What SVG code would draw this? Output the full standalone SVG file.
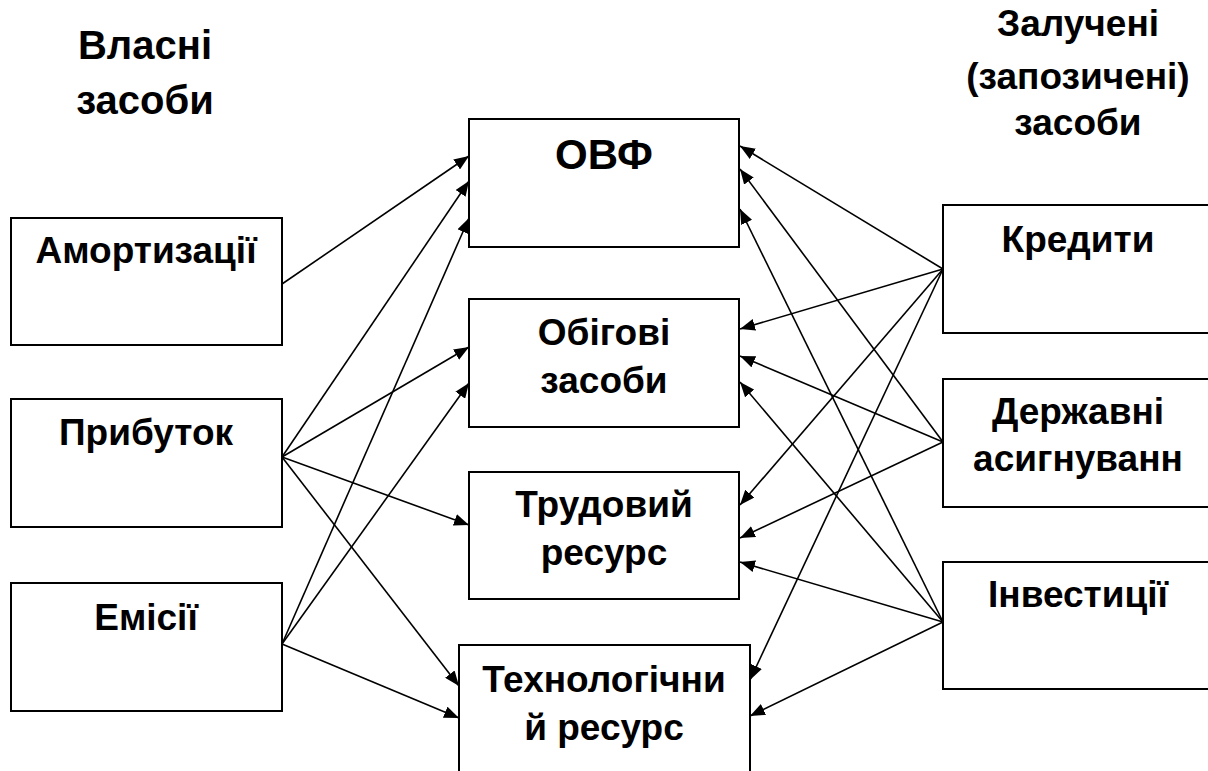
<svg xmlns="http://www.w3.org/2000/svg" width="1208" height="771" viewBox="0 0 1208 771">
<style>
.box{fill:#fff;stroke:#000;stroke-width:2}
.t{font-family:"Liberation Sans",Arial,sans-serif;font-weight:bold;font-size:37px;text-anchor:middle;fill:#000}
.h{font-size:40px}
.c line{stroke:#000;stroke-width:1.6;marker-end:url(#ah)}
</style>
<defs>
<marker id="ah" markerUnits="userSpaceOnUse" markerWidth="16" markerHeight="12" refX="15" refY="6" orient="auto">
<path d="M0,0 L15,6 L0,12 Z" fill="#000"/>
</marker>
</defs>
<rect width="1208" height="771" fill="#fff"/>
<g id="heading-own">
<text class="t h" x="145" y="59">Власні</text>
<text class="t h" x="145" y="114">засоби</text>
</g>
<g id="heading-borrowed">
<text class="t" x="1078" y="36">Залучені</text>
<text class="t" x="1078" y="89">(запозичені)</text>
<text class="t" x="1078" y="135">засоби</text>
</g>
<g id="n-amort"><rect class="box" x="11" y="218" width="271" height="127"/><text class="t" x="146" y="263">Амортизації</text></g>
<g id="n-profit"><rect class="box" x="11" y="399" width="271" height="128"/><text class="t" x="146" y="445">Прибуток</text></g>
<g id="n-emission"><rect class="box" x="11" y="583" width="271" height="128"/><text class="t" x="146" y="630">Емісії</text></g>
<g id="n-ovf"><rect class="box" x="469" y="119" width="270" height="128"/><text class="t" x="604" y="169" style="font-size:42px">ОВФ</text></g>
<g id="n-circ"><rect class="box" x="469" y="299" width="270" height="128"/><text class="t" x="604" y="345">Обігові</text><text class="t" x="604" y="393">засоби</text></g>
<g id="n-labor"><rect class="box" x="469" y="472" width="270" height="127"/><text class="t" x="604" y="517">Трудовий</text><text class="t" x="604" y="565">ресурс</text></g>
<g id="n-tech"><rect class="box" x="459" y="645" width="291" height="140"/><text class="t" x="604" y="692">Технологічни</text><text class="t" x="604" y="740">й ресурс</text></g>
<g id="n-credit"><rect class="box" x="943" y="205" width="280" height="128"/><text class="t" x="1078" y="252">Кредити</text></g>
<g id="n-state"><rect class="box" x="943" y="379" width="280" height="128"/><text class="t" x="1078" y="424">Державні</text><text class="t" x="1078" y="471">асигнуванн</text></g>
<g id="n-invest"><rect class="box" x="943" y="562" width="280" height="127"/><text class="t" x="1078" y="607">Інвестиції</text></g>
<g id="connectors" class="c">
<line x1="282" y1="284" x2="469" y2="156"/>
<line x1="282" y1="457" x2="469" y2="181"/>
<line x1="282" y1="457" x2="469" y2="347"/>
<line x1="282" y1="457" x2="469" y2="525"/>
<line x1="282" y1="457" x2="459" y2="686"/>
<line x1="282" y1="644" x2="469" y2="218"/>
<line x1="282" y1="644" x2="469" y2="383"/>
<line x1="282" y1="644" x2="459" y2="718"/>
<line x1="943" y1="269" x2="740" y2="146"/>
<line x1="943" y1="269" x2="740" y2="329"/>
<line x1="943" y1="269" x2="740" y2="505"/>
<line x1="943" y1="269" x2="750" y2="680"/>
<line x1="943" y1="442" x2="740" y2="169"/>
<line x1="943" y1="442" x2="740" y2="356"/>
<line x1="943" y1="442" x2="740" y2="538"/>
<line x1="943" y1="622" x2="740" y2="209"/>
<line x1="943" y1="622" x2="740" y2="382"/>
<line x1="943" y1="622" x2="740" y2="562"/>
<line x1="943" y1="622" x2="750" y2="716"/>
</g>
</svg>
